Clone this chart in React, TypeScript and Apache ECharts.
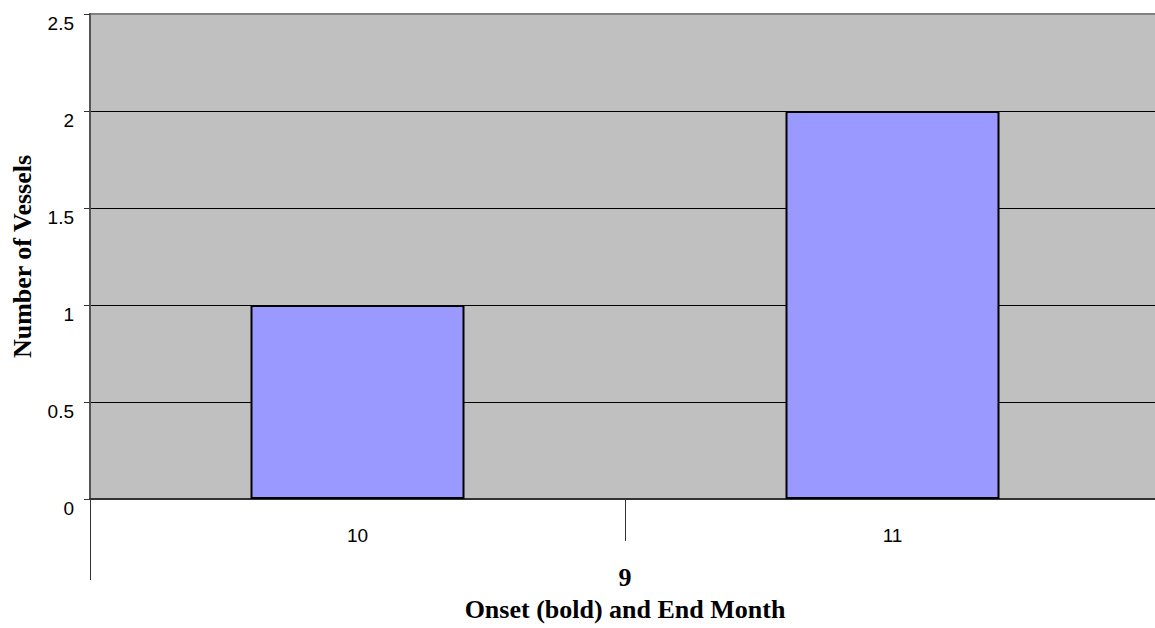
import React, { useEffect, useRef } from "react";
import * as echarts from "echarts";

const endMonths: string[] = ["10", "11"];
const onsetMonths: string[] = ["9"];
const vesselCounts: number[] = [1, 2];

const SERIF = "'Liberation Serif', 'Times New Roman', serif";
const SANS = "'Liberation Sans', Arial, sans-serif";

export default function App() {
  const ref = useRef<HTMLDivElement>(null);
  useEffect(() => {
    if (!ref.current) return;
    const chart = echarts.init(ref.current, null, { renderer: "svg" });
    chart.setOption({
      animation: false,
      backgroundColor: "#ffffff",
      grid: {
        left: 90,
        top: 14,
        right: 0,
        bottom: 129,
        show: true,
        backgroundColor: "#C0C0C0",
        borderColor: "#808080",
        borderWidth: 2,
      },
      xAxis: [
        {
          type: "category",
          data: endMonths,
          position: "bottom",
          boundaryGap: true,
          axisLine: { show: true, lineStyle: { color: "#333333", width: 2 } },
          axisTick: { show: true, alignWithLabel: false, length: 42, lineStyle: { color: "#333333", width: 1 } },
          axisLabel: {
            margin: 27,
            verticalAlign: "top",
            fontFamily: SANS,
            fontSize: 19,
            color: "#000000",
          },
          splitLine: { show: false },
        },
        {
          type: "category",
          data: onsetMonths,
          position: "bottom",
          boundaryGap: true,
          axisLine: { show: false },
          axisTick: { show: true, alignWithLabel: false, length: 81, lineStyle: { color: "#333333", width: 1 } },
          axisLabel: {
            margin: 65,
            verticalAlign: "top",
            fontFamily: SERIF,
            fontWeight: "bold",
            fontSize: 26,
            color: "#000000",
          },
          name: "Onset (bold) and End Month",
          nameLocation: "middle",
          nameGap: 97,
          nameTextStyle: {
            fontFamily: SERIF,
            fontWeight: "bold",
            fontSize: 26,
            color: "#000000",
            verticalAlign: "top",
          },
          splitLine: { show: false },
        },
      ],
      yAxis: {
        type: "value",
        min: 0,
        max: 2.5,
        interval: 0.5,
        axisLine: { show: true, lineStyle: { color: "#555555", width: 2 } },
        axisTick: { show: true, inside: false, length: 6, lineStyle: { color: "#333333" } },
        axisLabel: {
          margin: 16,
          verticalAlign: "top",
          fontFamily: SANS,
          fontSize: 19,
          color: "#000000",
        },
        splitLine: { show: true, showMaxLine: false, lineStyle: { color: "#000000", width: 1 } },
        name: "Number of Vessels",
        nameLocation: "middle",
        nameGap: 55,
        nameTextStyle: {
          fontFamily: SERIF,
          fontWeight: "bold",
          fontSize: 26,
          color: "#000000",
        },
      },
      series: [
        {
          type: "bar",
          xAxisIndex: 0,
          data: vesselCounts,
          barWidth: "40%",
          itemStyle: { color: "#9999FF", borderColor: "#000000", borderWidth: 2 },
        },
      ],
    });
    return () => chart.dispose();
  }, []);
  return (
    <div
      ref={ref}
      style={{ position: "fixed", left: 0, top: 0, width: 1160, height: 628 }}
    />
  );
}
